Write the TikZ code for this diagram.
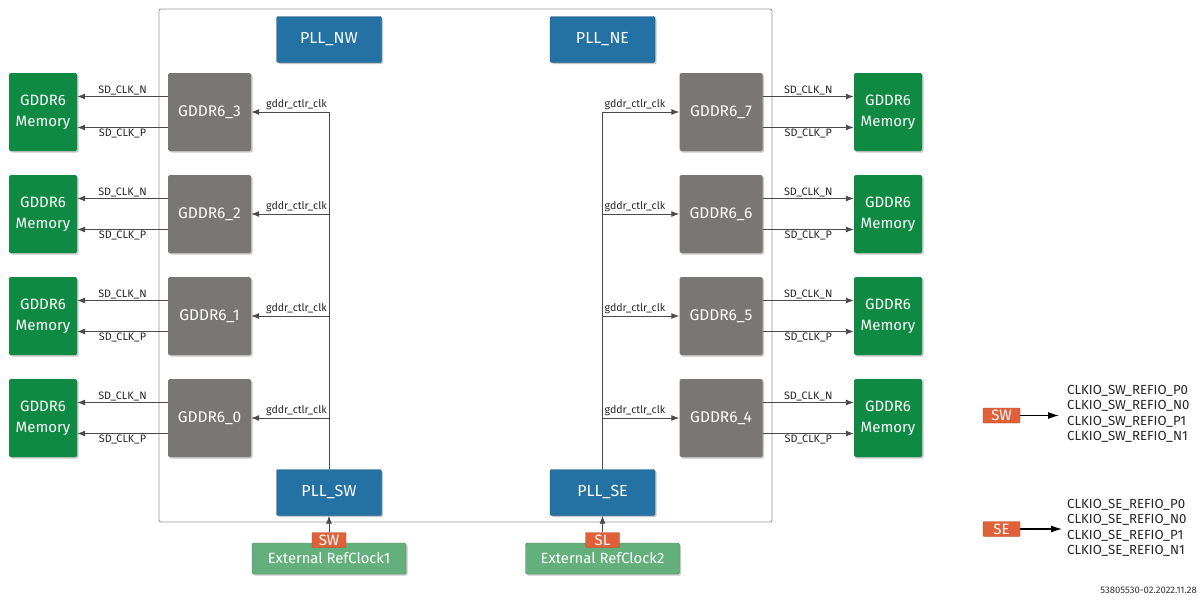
\documentclass[tikz,border=0pt]{standalone}
\usepackage{fontspec}
\setmainfont{Fira Sans}
\usetikzlibrary{arrows.meta,shadows,calc}
\definecolor{pllblue}{HTML}{2471A3}
\definecolor{ctrlgray}{HTML}{7A7674}
\definecolor{memgreen}{HTML}{0E8A43}
\definecolor{refgreen}{HTML}{63B07C}
\definecolor{badgeor}{HTML}{E0603A}
\definecolor{linegray}{HTML}{4A4A4A}
\definecolor{framegray}{HTML}{9A9A9A}
\newcommand{\fs}[2]{\fontsize{#1}{#2}\selectfont}
\begin{document}
\begin{tikzpicture}[x=1pt,y=-1pt,
  box/.style={rectangle, rounded corners=1.5pt, text=white, align=center, inner sep=0pt,
    drop shadow={shadow xshift=1.5pt, shadow yshift=-1.5pt, opacity=0.22, fill=black}},
  pll/.style={box, fill=pllblue, draw=pllblue!80!black, line width=0.4pt, minimum width=105pt, minimum height=46pt, font=\fs{16}{18}},
  ctrl/.style={box, fill=ctrlgray, minimum width=83pt, minimum height=78pt, font=\fs{15.5}{18}},
  mem/.style={box, fill=memgreen, minimum width=68pt, minimum height=78pt, font=\fs{15}{21}},
  ref/.style={box, fill=refgreen, draw=refgreen!75!black, line width=0.4pt, minimum width=154pt, minimum height=31pt, font=\fs{14.8}{16}},
  badge/.style={rectangle, rounded corners=1pt, fill=badgeor, draw=badgeor!80!black, line width=0.4pt, text=white, inner sep=0pt, minimum width=34pt, minimum height=15pt, font=\fs{15}{15}},
  sig/.style={draw=linegray, line width=0.9pt, -{Latex[length=8pt,width=6pt]}},
  wire/.style={draw=linegray, line width=0.9pt},
  lbl/.style={font=\fs{10.8}{12}, text=black!85, inner sep=1pt},
  clbl/.style={font=\fs{10.6}{12}, text=black!85, inner sep=1pt},
  leg/.style={draw=black, line width=1.2pt, -{Latex[length=11pt,width=7pt]}},
  legtxt/.style={font=\fs{13.2}{15.5}, text=black!85, align=left, anchor=west, inner sep=0pt}
]
\useasboundingbox (0,0) rectangle (1204,605);
\fill[white] (0,0) rectangle (1204,605);

% chip frame
\draw[framegray, line width=0.9pt, rounded corners=2pt] (159,9) rectangle (772,522);

% PLLs
\node[pll] (pnw) at (329,39.5) {PLL\_NW};
\node[pll] (pne) at (602.5,39.5) {PLL\_NE};
\node[pll] (psw) at (329,492.5) {PLL\_SW};
\node[pll] (pse) at (602.5,492.5) {PLL\_SE};

% controllers and memories
\foreach \i/\y in {3/112,2/214,1/316,0/418}{
  \node[ctrl] (gl\i) at (209.5,\y) {GDDR6\_\i};
  \node[mem] (ml\i) at (43,\y) {GDDR6\\Memory};
}
\foreach \i/\y in {7/112,6/214,5/316,4/418}{
  \node[ctrl] (gr\i) at (721,\y) {GDDR6\_\i};
  \node[mem] (mr\i) at (888,\y) {GDDR6\\Memory};
}

% left SD_CLK signals
\foreach \i in {3,2,1,0}{
  \draw[sig] ($(gl\i.west)+(0,-15.5)$) -- ($(ml\i.east)+(0,-15.5)$)
    node[lbl, midway, above] {SD\_CLK\_N};
  \draw[sig] ($(gl\i.west)+(0,15.5)$) -- ($(ml\i.east)+(0,15.5)$)
    node[lbl, midway, below] {SD\_CLK\_P};
}
% right SD_CLK signals
\foreach \i in {7,6,5,4}{
  \draw[sig] ($(gr\i.east)+(0,-15.5)$) -- ($(mr\i.west)+(0,-15.5)$)
    node[lbl, midway, above] {SD\_CLK\_N};
  \draw[sig] ($(gr\i.east)+(0,15.5)$) -- ($(mr\i.west)+(0,15.5)$)
    node[lbl, midway, below] {SD\_CLK\_P};
}

% gddr_ctlr_clk, west side
\draw[wire] (psw.north) -- (psw.north |- gl3.east);
\foreach \i in {3,2,1,0}{
  \draw[sig] (psw.north |- gl\i.east) -- (gl\i.east);
  \node[clbl, anchor=south east] at ($(psw.north |- gl\i.east)+(-1,-1.5)$) {gddr\_ctlr\_clk};
}
% gddr_ctlr_clk, east side
\draw[wire] (pse.north) -- (pse.north |- gr7.west);
\foreach \i in {7,6,5,4}{
  \draw[sig] (pse.north |- gr\i.west) -- (gr\i.west);
  \node[clbl, anchor=south west] at ($(pse.north |- gr\i.west)+(1,-1.5)$) {gddr\_ctlr\_clk};
}

% external reference clocks
\node[ref] (ext1) at (329,558.5) {External RefClock1};
\node[ref] (ext2) at (602.5,558.5) {External RefClock2};
\node[badge] (bsw) at (329,540) {SW};
\node[badge] (bsl) at (602.5,540) {SL};
\draw[sig] (bsw.north) -- (psw.south);
\draw[sig] (bsl.north) -- (pse.south);

% legend
\node[badge, minimum width=37pt] (lsw) at (1001.5,415.5) {SW};
\coordinate (lswend) at (1059,415.5);
\draw[leg] (lsw.east) -- (lswend);
\node[legtxt] (tsw) at (1067,414) {CLKIO\_SW\_REFIO\_P0\\CLKIO\_SW\_REFIO\_N0\\CLKIO\_SW\_REFIO\_P1\\CLKIO\_SW\_REFIO\_N1};

\node[badge, minimum width=37pt] (lse) at (1001.5,529) {SE};
\coordinate (lseend) at (1062,529);
\draw[leg] (lse.east) -- (lseend);
\node[legtxt] (tse) at (1067,528) {CLKIO\_SE\_REFIO\_P0\\CLKIO\_SE\_REFIO\_N0\\CLKIO\_SE\_REFIO\_P1\\CLKIO\_SE\_REFIO\_N1};

\node[font=\fs{9.5}{10}, text=black!80, anchor=east, inner sep=0pt] (stamp) at (1197,590) {53805530-02.2022.11.28};
\end{tikzpicture}
\end{document}
